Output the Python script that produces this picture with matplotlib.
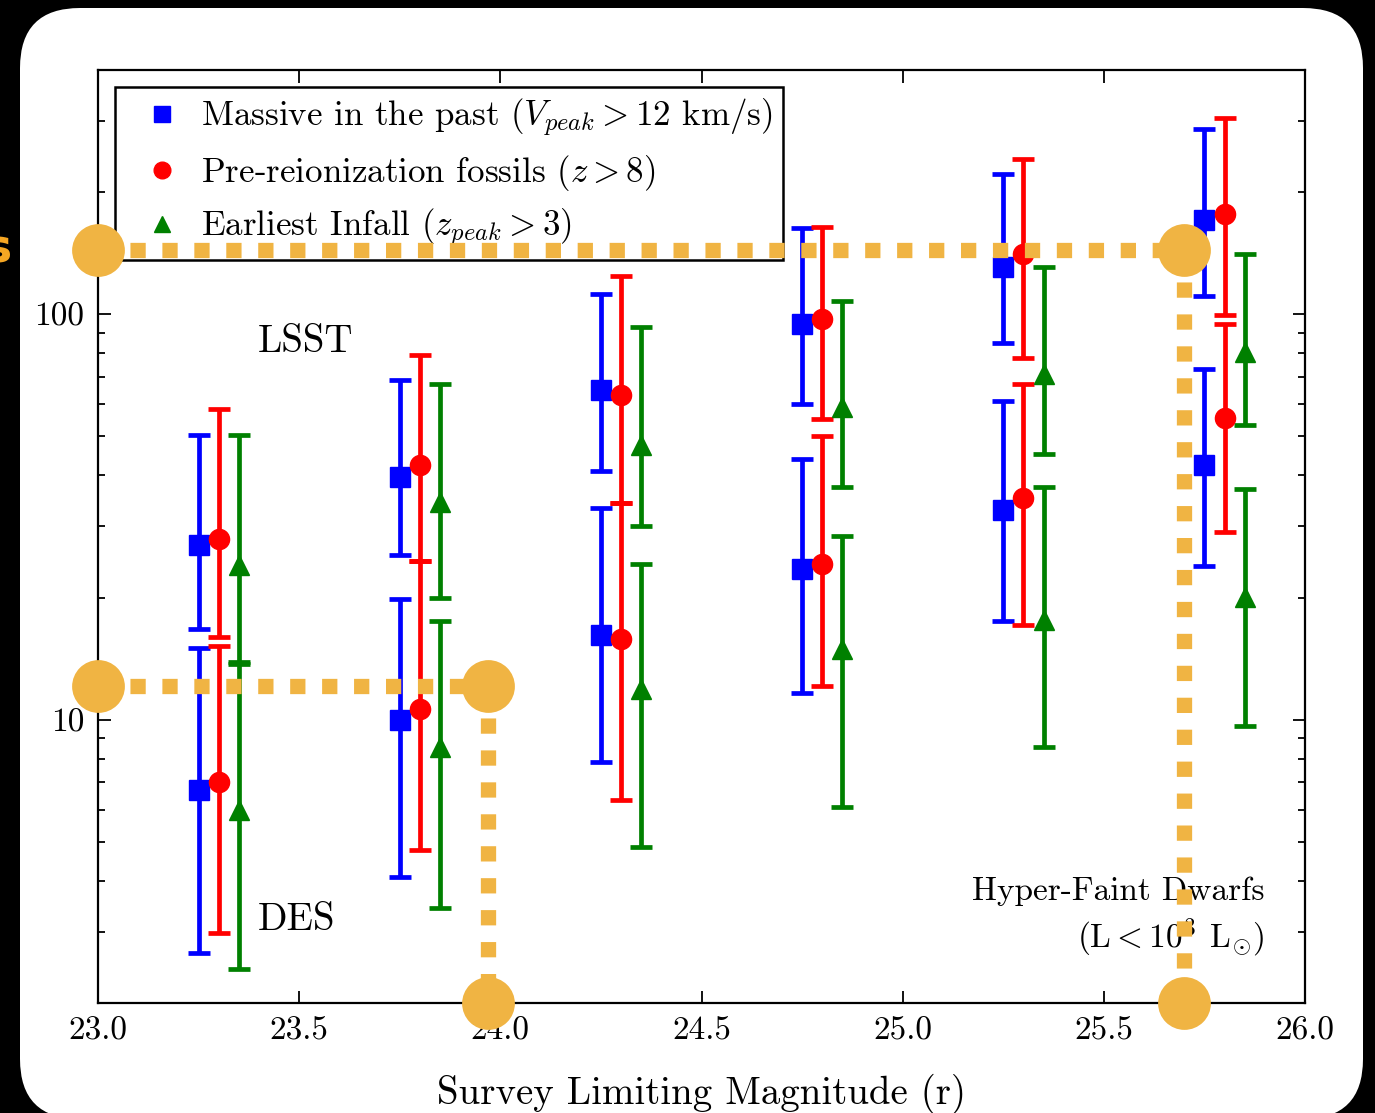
import numpy as np
import matplotlib
matplotlib.use("Agg")
import matplotlib.pyplot as plt
from matplotlib import ticker
from matplotlib.lines import Line2D
from matplotlib.patches import FancyBboxPatch

plt.rcParams['font.family'] = 'cmr10'
plt.rcParams['mathtext.fontset'] = 'cm'
plt.rcParams['axes.formatter.use_mathtext'] = True
plt.rcParams['lines.scale_dashes'] = False

# survey limiting magnitudes (r) of each group
mag = np.array([23.25, 23.75, 24.25, 24.75, 25.25, 25.75])
series_shift = [0.0, 0.05, 0.10]

# Massive in the past (Vpeak > 12 km/s)
blue_lsst = [27.0, 39.7, 65.0, 94.4, 130.5, 170.5]
blue_lsst_lo = [16.7, 25.4, 41.0, 60.0, 84.8, 110.8]
blue_lsst_hi = [50.3, 68.8, 112.0, 163.0, 222.0, 286.0]
blue_des = [6.7, 10.0, 16.2, 23.5, 32.9, 42.5]
blue_des_lo = [2.65, 4.08, 7.84, 11.6, 17.5, 23.9]
blue_des_hi = [15.0, 19.8, 33.3, 43.9, 61.0, 73.2]

# Pre-reionization fossils (z > 8)
red_lsst = [27.9, 42.5, 63.1, 97.2, 141.0, 177.0]
red_lsst_lo = [16.0, 24.6, 34.2, 55.1, 77.9, 99.4]
red_lsst_hi = [58.3, 79.3, 124.0, 164.0, 241.0, 304.0]
red_des = [7.0, 10.6, 15.8, 24.2, 35.2, 55.4]
red_des_lo = [2.97, 4.78, 6.32, 12.1, 17.1, 29.0]
red_des_hi = [15.2, 24.6, 34.2, 50.1, 67.2, 94.5]

# Earliest infall (zpeak > 3)
green_lsst = [24.1, 34.4, 47.6, 59.0, 71.1, 80.6]
green_lsst_lo = [13.9, 19.9, 30.0, 37.5, 45.2, 53.3]
green_lsst_hi = [50.3, 67.2, 92.9, 108.0, 130.5, 140.6]
green_des = [6.0, 8.58, 11.9, 14.9, 17.6, 20.1]
green_des_lo = [2.42, 3.44, 4.84, 6.1, 8.58, 9.66]
green_des_hi = [13.7, 17.5, 24.2, 28.4, 37.5, 37.0]

labels = [r'Massive in the past $(V_{peak} > 12$ km/s$)$',
          r'Pre-reionization fossils $(z > 8)$',
          r'Earliest Infall $(z_{peak} > 3)$']

# orange guide overlay (magnitude, count)
guide_h1 = ([23.0, 25.70], [144.0, 144.0])
guide_h2 = ([23.0, 23.97], [12.1, 12.1])
guide_v1 = ([23.97, 23.97], [12.1, 2.0])
guide_v2 = ([25.70, 25.70], [144.0, 2.0])
guide_dots_x = [23.0, 25.70, 23.0, 23.97, 23.97, 25.70]
guide_dots_y = [144.0, 144.0, 12.1, 12.1, 2.0, 2.0]
orange = '#F0B443'


def draw_series(ax, x, y, lo, hi, marker, color):
    y = np.array(y)
    err = [y - np.array(lo), np.array(hi) - y]
    ax.errorbar(x, y, yerr=err, fmt=marker, color=color, mec=color, ms=14.5,
                elinewidth=3.4, capsize=8, capthick=3.4, zorder=3)


def main():
    fig = plt.figure(figsize=(13.75, 11.13), dpi=100)
    fig.patch.set_facecolor('black')
    card = FancyBboxPatch((0.20, -0.06), 13.43, 11.11,
                          boxstyle="round,pad=0,rounding_size=0.6",
                          transform=fig.dpi_scale_trans, facecolor='white',
                          edgecolor='none', zorder=0)
    fig.add_artist(card)

    ax = fig.add_axes([0.0713, 0.0988, 0.8778, 0.8383])

    groups = [
        ('s', 'b', [(blue_lsst, blue_lsst_lo, blue_lsst_hi), (blue_des, blue_des_lo, blue_des_hi)]),
        ('o', 'r', [(red_lsst, red_lsst_lo, red_lsst_hi), (red_des, red_des_lo, red_des_hi)]),
        ('^', 'g', [(green_lsst, green_lsst_lo, green_lsst_hi), (green_des, green_des_lo, green_des_hi)]),
    ]
    for shift, (marker, color, sets) in zip(series_shift, groups):
        for y, lo, hi in sets:
            draw_series(ax, mag + shift, y, lo, hi, marker, color)

    ax.set_yscale('log')
    ax.set_xlim(23.0, 26.0)
    ax.set_ylim(2, 400)
    ax.set_xticks(np.arange(23.0, 26.01, 0.5))
    ax.xaxis.set_major_formatter(ticker.FormatStrFormatter('%.1f'))
    ax.yaxis.set_major_locator(ticker.FixedLocator([10, 100]))
    ax.yaxis.set_major_formatter(ticker.FormatStrFormatter('%d'))
    ax.yaxis.set_minor_locator(ticker.LogLocator(base=10, subs=np.arange(2, 10)))
    ax.yaxis.set_minor_formatter(ticker.NullFormatter())
    ax.tick_params(which='both', direction='in', top=True, right=True,
                   labelsize=24, width=1.3)
    ax.tick_params(which='major', length=9, pad=10)
    ax.tick_params(which='minor', length=5)
    for s in ax.spines.values():
        s.set_linewidth(1.6)

    ax.set_xlabel('Survey Limiting Magnitude (r)', fontsize=28, labelpad=20)

    ax.text(23.398, 85.3, 'LSST', fontsize=28, va='center', ha='left')
    ax.text(23.398, 3.21, 'DES', fontsize=28, va='center', ha='left')
    ax.text(25.90, 3.77, 'Hyper-Faint Dwarfs', fontsize=24, va='center', ha='right')
    ax.text(25.90, 2.89, r'$(\mathrm{L} < 10^3\;\,\mathrm{L}_{\odot})$', fontsize=24,
            va='center', ha='right')

    handles = [Line2D([], [], marker=m, color=c, ls='none', ms=12)
               for m, c, _ in groups]
    leg = ax.legend(handles, labels, loc='upper left', bbox_to_anchor=(0.014, 0.982),
                    borderaxespad=0, fontsize=25.2, numpoints=1, fancybox=False,
                    framealpha=1, handlelength=2.1, handletextpad=0.05,
                    labelspacing=0.4, borderpad=0.3)
    leg.get_frame().set_edgecolor('black')
    leg.get_frame().set_linewidth(1.8)

    # orange guide overlay
    for gx, gy in [guide_h1, guide_h2, guide_v1, guide_v2]:
        ax.plot(gx, gy, color=orange, lw=11, ls=(0, (11, 12)),
                solid_capstyle='butt', dash_capstyle='butt', clip_on=False, zorder=10)
    ax.plot(guide_dots_x, guide_dots_y, 'o', color=orange, ms=38, mew=0,
            clip_on=False, zorder=11)

    fig.text(-0.012, 1 - 250 / 1113, 's', color='#F5A623', fontsize=34,
             fontweight='bold', family='DejaVu Sans', va='center')

    plt.savefig('out.png', dpi=100, facecolor=fig.get_facecolor())
    plt.close()


if __name__ == "__main__":
    main()
